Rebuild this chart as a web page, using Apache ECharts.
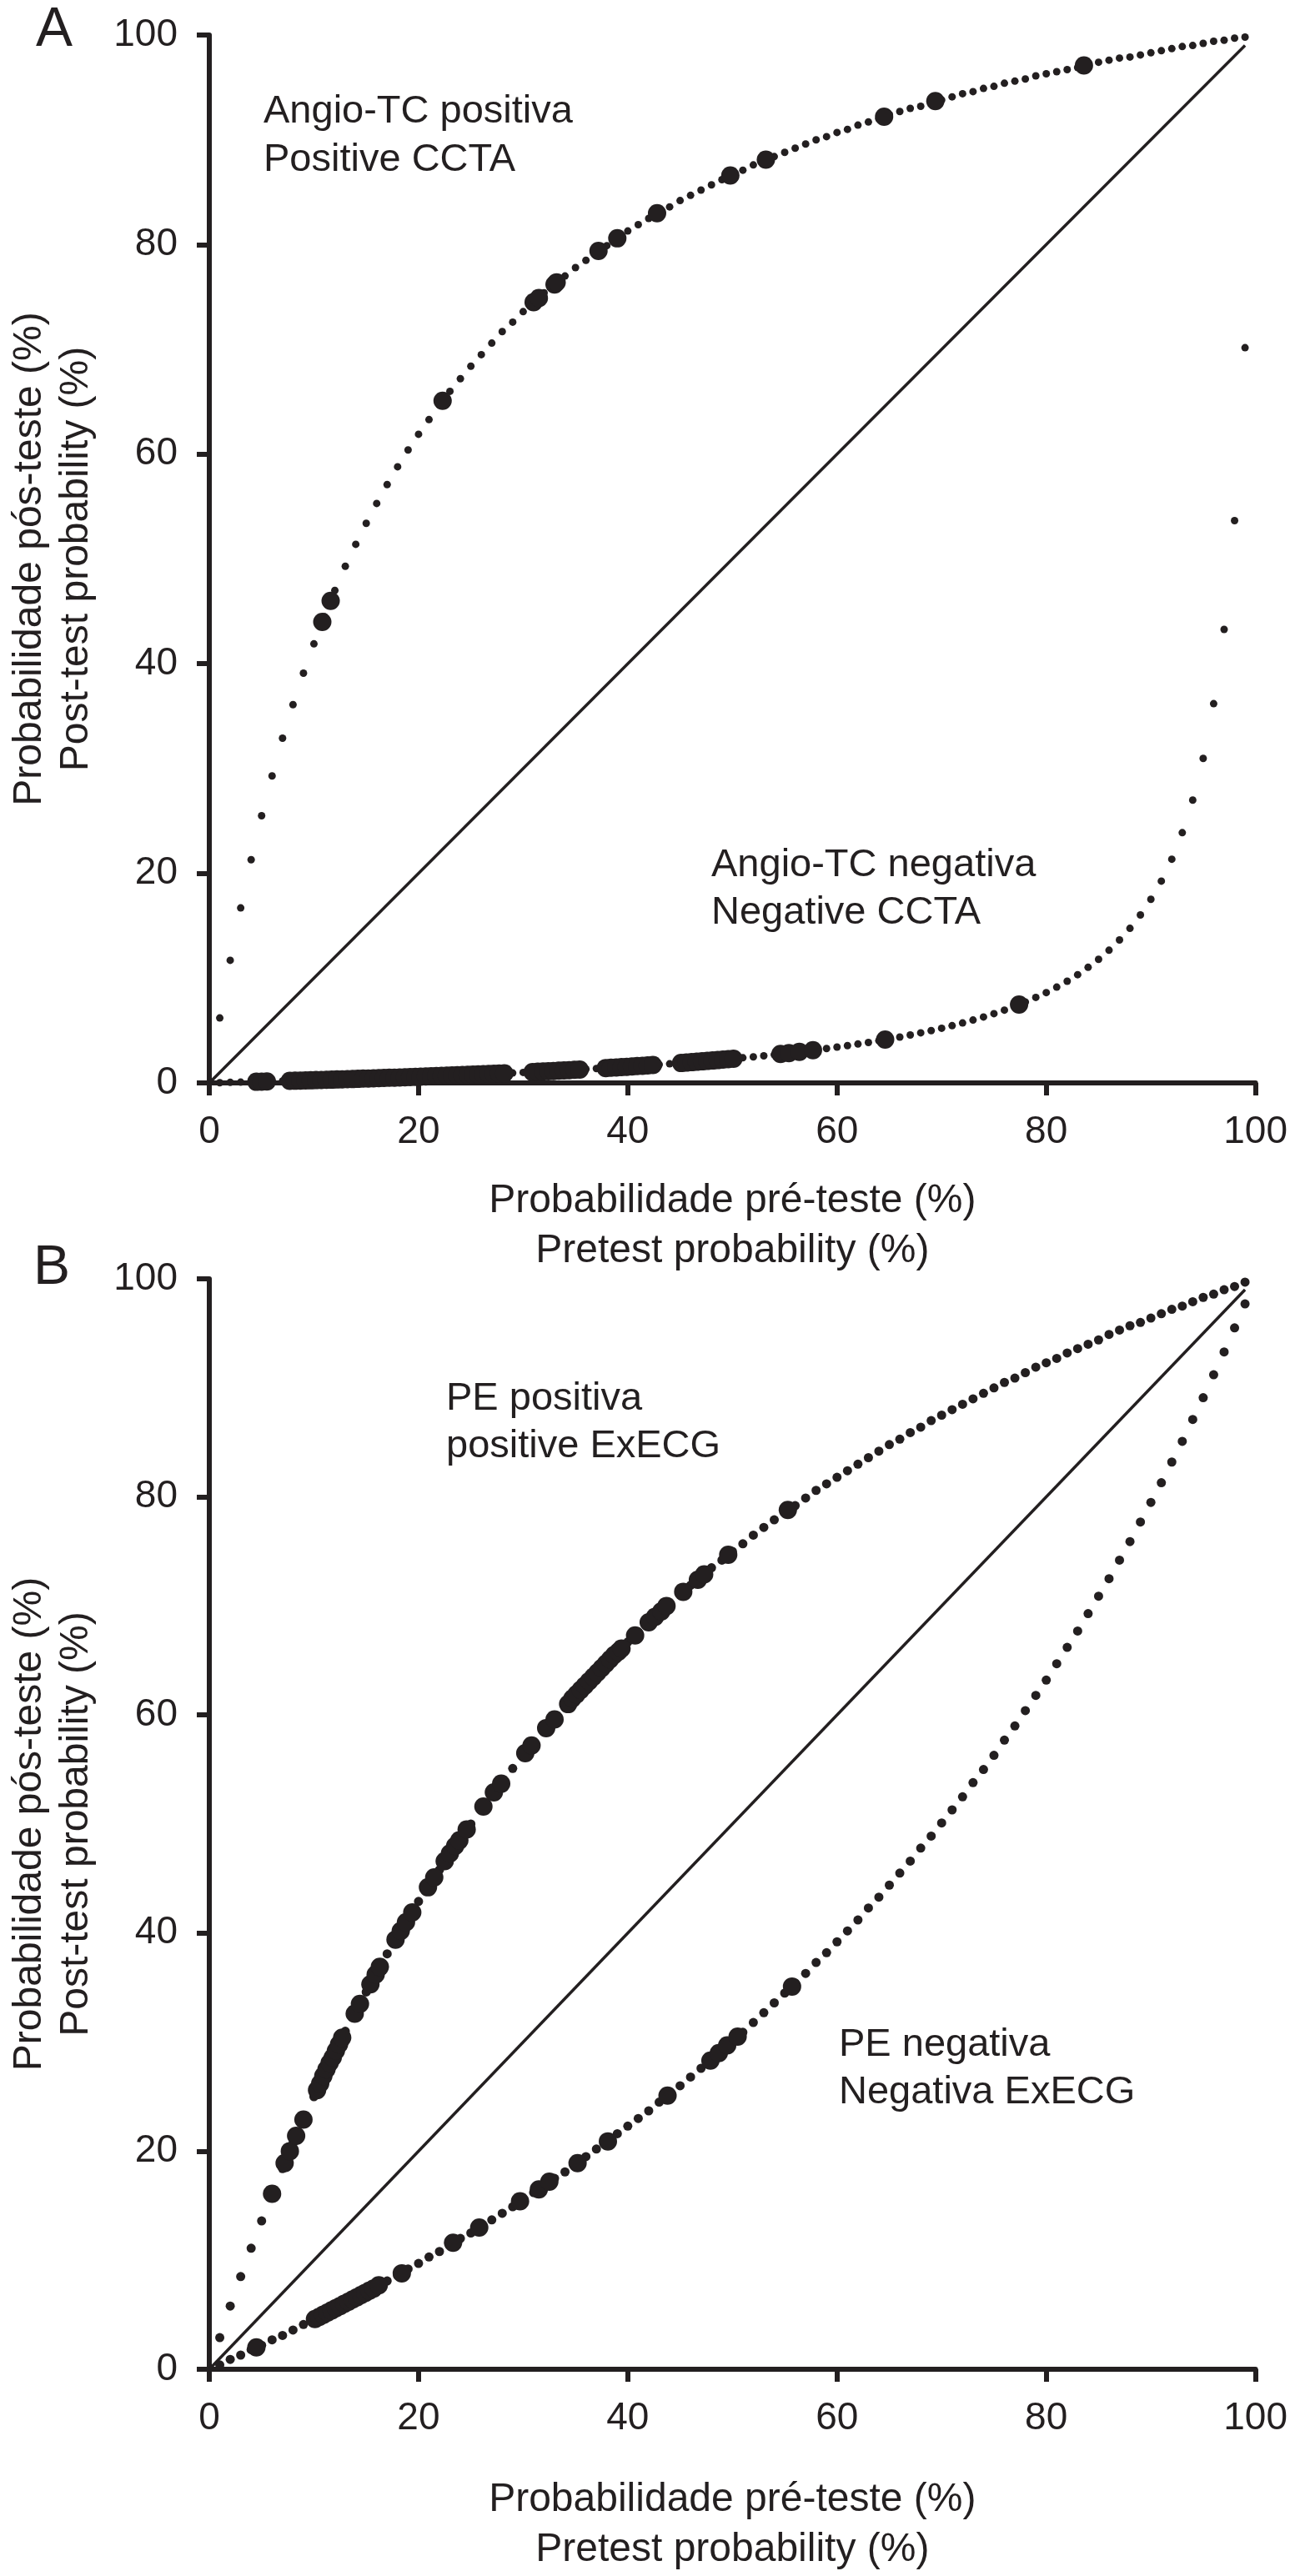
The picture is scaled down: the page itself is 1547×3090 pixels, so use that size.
<!DOCTYPE html>
<html>
<head>
<meta charset="utf-8">
<script src="https://cdn.jsdelivr.net/npm/echarts@6/dist/echarts.min.js"></script>
<style>
  html, body { margin: 0; padding: 0; background: #ffffff; }
  #chart { width: 1547px; height: 3090px; }
</style>
</head>
<body>
<div id="chart"></div>
<script>
// ---------- data ----------
const pretest = [1,2,3,4,5,6,7,8,9,10,11,12,13,14,15,16,17,18,19,20,21,22,23,24,25,26,27,28,29,30,31,32,33,34,35,36,37,38,39,40,41,42,43,44,45,46,47,48,49,50,51,52,53,54,55,56,57,58,59,60,61,62,63,64,65,66,67,68,69,70,71,72,73,74,75,76,77,78,79,80,81,82,83,84,85,86,87,88,89,90,91,92,93,94,95,96,97,98,99];

// Panel A – small dots (post-test probability at each pretest value)
const aPosSmall = [6.2,11.7,16.7,21.3,25.5,29.3,32.9,36.1,39.1,41.9,
  44.5,47.0,49.3,51.4,53.4,55.3,57.1,58.8,60.4,61.9,
  63.3,64.7,66.0,67.2,68.4,69.5,70.6,71.7,72.6,73.6,
  74.5,75.4,76.2,77.0,77.8,78.5,79.2,79.9,80.6,81.3,
  81.9,82.5,83.1,83.6,84.2,84.7,85.2,85.7,86.2,86.7,
  87.1,87.6,88.0,88.4,88.8,89.2,89.6,90.0,90.3,90.7,
  91.0,91.4,91.7,92.0,92.4,92.7,93.0,93.2,93.5,93.8,
  94.1,94.4,94.6,94.9,95.1,95.4,95.6,95.8,96.1,96.3,
  96.5,96.7,96.9,97.2,97.4,97.6,97.8,97.9,98.1,98.3,
  98.5,98.7,98.9,99.0,99.2,99.4,99.5,99.7,99.8];
const aNegSmall = [0.02,0.05,0.07,0.10,0.12,0.15,0.18,0.20,0.23,0.26,
  0.29,0.32,0.35,0.38,0.41,0.45,0.48,0.52,0.55,0.59,
  0.62,0.66,0.70,0.74,0.78,0.82,0.87,0.91,0.95,1.00,
  1.05,1.10,1.15,1.20,1.25,1.31,1.37,1.43,1.49,1.55,
  1.61,1.68,1.75,1.82,1.89,1.97,2.05,2.13,2.22,2.31,
  2.40,2.49,2.59,2.70,2.80,2.92,3.03,3.16,3.28,3.42,
  3.56,3.71,3.86,4.03,4.20,4.38,4.57,4.78,4.99,5.22,
  5.46,5.72,6.00,6.29,6.61,6.95,7.32,7.72,8.16,8.62,
  9.14,9.71,10.33,11.03,11.79,12.66,13.64,14.75,16.03,17.52,
  19.26,21.35,23.88,26.99,30.97,36.19,43.28,53.66,70.16];

// Panel A – large dots (patients)
const aPosBigX = [10.8,11.6,22.3,31.0,31.5,33.0,33.2,37.2,39.0,42.8,49.8,53.2,64.5,69.4,83.6];
const aPosBigY = [44.0,46.0,65.1,74.5,74.9,76.2,76.4,79.4,80.6,83.0,86.6,88.1,92.2,93.7,97.1];
const aNegBigX = [4.5,5.0,5.5,
  7.7,8.2,8.7,9.2,9.7,10.2,10.7,11.2,11.7,12.2,12.7,13.2,13.7,14.2,14.7,15.2,15.7,16.2,16.7,17.2,17.7,
  18.2,18.7,19.2,19.7,20.2,20.7,21.2,21.7,22.2,22.7,23.2,23.7,24.2,24.7,25.2,25.7,26.2,26.7,27.2,27.7,28.2,
  30.9,31.4,31.9,32.4,32.9,33.4,33.9,34.4,34.9,35.4,
  37.9,38.4,38.9,39.4,39.9,40.4,40.9,41.4,41.9,42.4,
  45.1,45.6,46.1,46.6,47.1,47.6,48.1,48.6,49.1,49.6,50.1,
  54.6,55.4,56.4,57.7,64.6,77.4];
const aNegBigY = [0.11,0.12,0.14,
  0.20,0.21,0.22,0.24,0.25,0.27,0.28,0.30,0.31,0.33,0.34,0.36,0.37,0.39,0.41,0.42,0.44,0.45,0.47,0.49,0.50,
  0.52,0.54,0.56,0.58,0.59,0.61,0.63,0.65,0.67,0.69,0.71,0.73,0.75,0.77,0.79,0.81,0.83,0.85,0.87,0.90,0.92,
  1.04,1.07,1.09,1.12,1.14,1.17,1.20,1.22,1.25,1.28,
  1.42,1.45,1.48,1.51,1.54,1.57,1.61,1.64,1.67,1.71,
  1.90,1.94,1.98,2.02,2.06,2.10,2.14,2.18,2.23,2.27,2.31,
  2.76,2.85,2.96,3.12,4.13,7.48];

// Panel B – small dots
const bPosSmall = [2.9,5.8,8.5,11.1,13.6,16.1,18.4,20.7,22.9,25.0,
  27.0,29.0,31.0,32.8,34.6,36.4,38.1,39.7,41.3,42.9,
  44.4,45.8,47.3,48.6,50.0,51.3,52.6,53.8,55.1,56.3,
  57.4,58.5,59.6,60.7,61.8,62.8,63.8,64.8,65.7,66.7,
  67.6,68.5,69.4,70.2,71.1,71.9,72.7,73.5,74.2,75.0,
  75.7,76.5,77.2,77.9,78.6,79.2,79.9,80.6,81.2,81.8,
  82.4,83.0,83.6,84.2,84.8,85.3,85.9,86.4,87.0,87.5,
  88.0,88.5,89.0,89.5,90.0,90.5,90.9,91.4,91.9,92.3,
  92.7,93.2,93.6,94.0,94.4,94.9,95.3,95.7,96.0,96.4,
  96.8,97.2,97.5,97.9,98.3,98.6,99.0,99.3,99.7];
const bNegSmall = [0.4,0.9,1.3,1.8,2.2,2.7,3.1,3.6,4.1,4.6,
  5.0,5.5,6.0,6.5,7.1,7.6,8.1,8.6,9.2,9.7,
  10.3,10.8,11.4,12.0,12.5,13.1,13.7,14.3,14.9,15.6,
  16.2,16.8,17.5,18.1,18.8,19.5,20.2,20.9,21.6,22.3,
  23.0,23.7,24.5,25.3,26.0,26.8,27.6,28.4,29.2,30.1,
  30.9,31.8,32.7,33.6,34.5,35.4,36.3,37.3,38.2,39.2,
  40.2,41.2,42.3,43.3,44.4,45.5,46.6,47.8,48.9,50.1,
  51.3,52.5,53.8,55.0,56.3,57.7,59.0,60.4,61.8,63.2,
  64.7,66.2,67.7,69.3,70.9,72.5,74.2,75.9,77.7,79.5,
  81.3,83.2,85.1,87.1,89.1,91.2,93.3,95.5,97.7];

// Panel B – large dots (patients)
const bPosBigX = [6.0,7.2,7.7,8.3,9.0,10.3,10.6,10.9,11.2,11.5,11.8,12.1,12.4,12.7,13.9,14.4,15.4,15.9,16.3,
  17.8,18.3,18.8,19.4,20.9,21.5,22.5,23.0,23.5,23.9,24.6,26.2,27.2,27.9,30.2,30.8,32.2,33.0,
  34.3,34.7,35.1,35.5,35.9,36.3,36.7,37.1,37.5,37.9,38.3,38.7,39.1,39.4,
  40.7,42.0,42.6,43.2,43.7,45.3,46.7,47.3,49.6,55.3];
const bPosBigY = [16.1,18.9,20.0,21.4,22.9,25.6,26.2,26.9,27.5,28.1,28.6,29.2,29.8,30.4,32.6,33.5,35.3,36.2,36.9,
  39.4,40.2,41.0,41.9,44.2,45.1,46.6,47.3,48.0,48.5,49.5,51.6,52.9,53.7,56.5,57.2,58.8,59.6,
  61.0,61.5,61.9,62.3,62.7,63.1,63.5,63.9,64.3,64.7,65.1,65.5,65.8,66.1,
  67.3,68.5,69.0,69.5,70.0,71.3,72.4,72.9,74.7,78.8];
const bNegBigX = [4.5,10.1,10.5,10.9,11.3,11.7,12.1,12.5,12.9,13.3,13.7,14.1,14.5,14.9,15.3,15.7,16.2,
  18.4,23.3,25.8,29.7,31.5,32.5,35.2,38.1,43.8,47.9,48.7,49.5,50.5,55.7];
const bNegBigY = [2.0,4.6,4.8,5.0,5.2,5.4,5.6,5.8,6.0,6.2,6.4,6.6,6.8,7.0,7.2,7.4,7.7,
  8.8,11.6,13.0,15.4,16.5,17.2,18.9,20.9,25.1,28.3,29.0,29.7,30.5,35.1];

// identity line
const diagX = [0, 99];
const diagY = [0, 99];

// tick labels / text
const tickValues = [0, 20, 40, 60, 80, 100];
const xTitle = 'Probabilidade pré-teste (%)\nPretest probability (%)';
const yTitle = 'Probabilidade pós-teste (%)\nPost-test probability (%)';

// ---------- chart ----------
const INK = '#231f20';
const FONT = '"Liberation Sans", Arial, Helvetica, sans-serif';
const chart = echarts.init(document.getElementById('chart'), null, { renderer: 'canvas' });

function pairs(xs, ys) { return xs.map((x, i) => [x, ys[i]]); }

function xAxisFor(g, gap) {
  return {
    gridIndex: g, type: 'value', min: 0, max: 100, interval: 20,
    name: xTitle, nameLocation: 'middle', nameGap: gap,
    nameTextStyle: { color: INK, fontFamily: FONT, fontSize: 48, lineHeight: 60 },
    axisLine: { show: true, onZero: false, lineStyle: { color: INK, width: 6 } },
    axisTick: { show: true, length: 15, lineStyle: { color: INK, width: 6 } },
    axisLabel: { color: INK, fontFamily: FONT, fontSize: 46, margin: 36,
      formatter: v => tickValues.includes(v) ? String(v) : '' },
    splitLine: { show: false }
  };
}
function yAxisFor(g) {
  return {
    gridIndex: g, type: 'value', min: 0, max: 100, interval: 20,
    name: yTitle, nameLocation: 'middle', nameGap: 131, nameRotate: 90,
    nameTextStyle: { color: INK, fontFamily: FONT, fontSize: 48, lineHeight: 56 },
    axisLine: { show: true, onZero: false, lineStyle: { color: INK, width: 6 } },
    axisTick: { show: true, length: 15, lineStyle: { color: INK, width: 6 } },
    axisLabel: { color: INK, fontFamily: FONT, fontSize: 46, margin: 38, padding: [0, 0, 12, 0],
      formatter: v => tickValues.includes(v) ? String(v) : '' },
    splitLine: { show: false }
  };
}
function dots(g, data, size, name) {
  return {
    name, type: 'scatter', xAxisIndex: g, yAxisIndex: g, data,
    symbol: 'circle', symbolSize: size, clip: false, silent: true,
    itemStyle: { color: INK, opacity: 1 }, z: 3
  };
}
function diag(g) {
  return {
    type: 'line', xAxisIndex: g, yAxisIndex: g, data: pairs(diagX, diagY),
    symbol: 'none', silent: true, clip: false,
    lineStyle: { color: INK, width: 3.5 }, z: 2
  };
}
function txt(text, x, y, size) {
  return { type: 'text', x, y, silent: true, z: 10,
    style: { text, fill: INK, font: size + 'px ' + FONT, align: 'left', verticalAlign: 'middle',
             textAlign: 'left', textVerticalAlign: 'middle' } };
}

const option = {
  animation: false,
  backgroundColor: '#ffffff',
  grid: [
    { left: 246, top: 42, width: 1264, height: 1257 },
    { left: 246, top: 1534, width: 1264, height: 1321 }
  ],
  xAxis: [xAxisFor(0, 112), xAxisFor(1, 127)],
  yAxis: [yAxisFor(0), yAxisFor(1)],
  series: [
    diag(0),
    dots(0, pairs(pretest, aPosSmall), 9, 'Angio-TC positiva'),
    dots(0, pairs(pretest, aNegSmall), 9, 'Angio-TC negativa'),
    dots(0, pairs(aPosBigX, aPosBigY), 22, 'Angio-TC positiva (pacientes)'),
    dots(0, pairs(aNegBigX, aNegBigY), 22, 'Angio-TC negativa (pacientes)'),
    diag(1),
    dots(1, pairs(pretest, bPosSmall), 11, 'PE positiva'),
    dots(1, pairs(pretest, bNegSmall), 11, 'PE negativa'),
    dots(1, pairs(bPosBigX, bPosBigY), 22, 'PE positiva (pacientes)'),
    dots(1, pairs(bNegBigX, bNegBigY), 22, 'PE negativa (pacientes)')
  ],
  graphic: [
    txt('A', 43, 37, 66),
    txt('B', 40, 1522, 66),
    txt('Angio-TC positiva', 316, 134, 47),
    txt('Positive CCTA', 316, 192, 47),
    txt('Angio-TC negativa', 853, 1038, 47),
    txt('Negative CCTA', 853, 1095, 47),
    txt('PE positiva', 535, 1678, 47),
    txt('positive ExECG', 535, 1735, 47),
    txt('PE negativa', 1006, 2453, 47),
    txt('Negativa ExECG', 1006, 2510, 47)
  ]
};
chart.setOption(option);
</script>
</body>
</html>
